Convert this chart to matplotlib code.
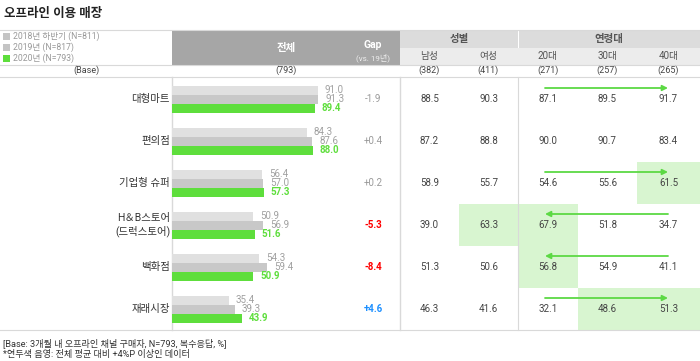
import matplotlib
matplotlib.use("Agg")
import matplotlib.pyplot as plt
from matplotlib.patches import Rectangle

plt.rcParams['font.family'] = ['Roboto', 'Noto Sans CJK KR', 'DejaVu Sans']

# data
categories = ['대형마트', '편의점', '기업형 슈퍼', 'H＆B스토어\n(드럭스토어)', '백화점', '재래시장']
y2018 = [91.0, 84.3, 56.4, 50.9, 54.3, 35.4]
y2019 = [91.3, 87.6, 57.0, 56.9, 59.4, 39.3]
y2020 = [89.4, 88.0, 57.3, 51.6, 50.9, 43.9]
gap = [-1.9, 0.4, 0.2, -5.3, -8.4, 4.6]
male = [88.5, 87.2, 58.9, 39.0, 51.3, 46.3]
female = [90.3, 88.8, 55.7, 63.3, 50.6, 41.6]
age20 = [87.1, 90.0, 54.6, 67.9, 56.8, 32.1]
age30 = [89.5, 90.7, 55.6, 51.8, 54.9, 48.6]
age40 = [91.7, 83.4, 61.5, 34.7, 41.1, 51.3]
sub_cols = ['남성', '여성', '20대', '30대', '40대']
bases = ['(382)', '(411)', '(271)', '(257)', '(265)']
legend_labels = ['2018년 하반기 (N=811)', '2019년 (N=817)', '2020년 (N=793)']
# (row, column index in sub_cols)
highlights = [(2, 4), (3, 1), (3, 2), (4, 2), (5, 3), (5, 4)]
# row -> arrow direction (1 = to 40대, -1 = to 20대)
arrows = {0: 1, 2: 1, 3: -1, 4: -1, 5: 1}

GREEN = '#5ede3c'
LIGHT = '#e0e0e0'
MID = '#c8c8c8'
LINE = '#d9d9d9'
TXT = '#444444'

fig = plt.figure(figsize=(7, 3.61), dpi=100)
ax = fig.add_axes([0, 0, 1, 1])
ax.set_xlim(0, 700)
ax.set_ylim(361, 0)
ax.axis('off')

row_top = 78
row_h = 42
col_x = [400, 459, 518, 578, 637, 700]

# title
ax.text(4, 13, '오프라인 이용 매장', fontsize=9, fontweight='bold', color='#222222', va='center')

# header blocks
ax.add_patch(Rectangle((172, 30), 228, 35, color='#a6a6a6', lw=0))
ax.add_patch(Rectangle((400, 30), 117.5, 18, color='#dcdcdc', lw=0))
ax.add_patch(Rectangle((518.5, 30), 181.5, 18, color='#dcdcdc', lw=0))
ax.add_patch(Rectangle((400, 48), 300, 17, color='#ececec', lw=0))
ax.text(286, 48, '전체', fontsize=7.5, fontweight='bold', color='white', ha='center', va='center')
ax.text(373, 45, 'Gap', fontsize=7.5, fontweight='bold', color='white', ha='center', va='center')
ax.text(373, 57.5, '(vs. 19년)', fontsize=5.8, color='#eeeeee', ha='center', va='center')
ax.text(459, 39, '성별', fontsize=7.5, fontweight='bold', color='#555555', ha='center', va='center')
ax.text(609, 39, '연령대', fontsize=7.5, fontweight='bold', color='#555555', ha='center', va='center')

# legend
legend_colors = ['#c4c4c4', '#c4c4c4', GREEN]
for i, (lab, c) in enumerate(zip(legend_labels, legend_colors)):
    yy = 36 + i * 11
    ax.add_patch(Rectangle((3, yy - 3.5), 7, 7, color=c, lw=0))
    ax.text(13, yy, lab, fontsize=6.2, color='#999999', va='center')

# base row
ax.text(86, 70.5, '(Base)', fontsize=6.5, color=TXT, ha='center', va='center')
ax.text(286, 70.5, '(793)', fontsize=6.5, color=TXT, ha='center', va='center')
for j, b in enumerate(bases):
    cx = (col_x[j] + col_x[j + 1]) / 2
    ax.text(cx, 56, sub_cols[j], fontsize=7, color='#555555', ha='center', va='center')
    ax.text(cx, 70.5, b, fontsize=6.5, color=TXT, ha='center', va='center')

# highlight cells
for r, c in highlights:
    ax.add_patch(Rectangle((col_x[c], row_top + r * row_h), col_x[c + 1] - col_x[c], row_h,
                           color='#d8f5d0', lw=0))

# lines
for yy in [30, 65, 76.5, 330]:
    ax.plot([0, 700], [yy, yy], color=LINE, lw=0.8)
ax.plot([172, 172], [76.5, 330], color=LINE, lw=1.0)
ax.plot([400, 400], [76.5, 330], color=LINE, lw=1.0)
ax.plot([518, 518], [76.5, 330], color=LINE, lw=0.8)

# table values
cols = [male, female, age20, age30, age40]
for i in range(len(categories)):
    cy = row_top + i * row_h + row_h / 2
    ax.text(170, cy, categories[i], fontsize=7.5, color='#333333', ha='right', va='center',
            linespacing=1.3)
    g = gap[i]
    if g <= -5:
        gc, gw = '#ff0000', 'bold'
    elif g >= 4:
        gc, gw = '#1e90ff', 'bold'
    else:
        gc, gw = '#999999', 'normal'
    ax.text(373, cy, f'{g:+.1f}', fontsize=7, color=gc, fontweight=gw, ha='center', va='center')
    for j, col in enumerate(cols):
        cx = (col_x[j] + col_x[j + 1]) / 2
        ax.text(cx, cy, f'{col[i]:.1f}', fontsize=7, color=TXT, ha='center', va='center')
    if i in arrows:
        ay = cy - 11
        x_20, x_40 = 545, 668
        if arrows[i] > 0:
            start, end = x_20, x_40
        else:
            start, end = x_40, x_20
        ax.annotate('', xy=(end, ay), xytext=(start, ay),
                    arrowprops=dict(arrowstyle='-|>', color='#5cd944', lw=1.3,
                                    mutation_scale=8, shrinkA=0, shrinkB=0))

# footnotes
ax.text(3, 343, '[Base: 3개월 내 오프라인 채널 구매자, N=793, 복수응답, %]', fontsize=6.6, color='#333333', va='center')
ax.text(3, 355, '*연두색 음영: 전체 평균 대비 +4%P 이상인 데이터', fontsize=6.6, color='#333333', va='center')

# bars
bx = fig.add_axes([172 / 700, 1 - 330 / 361, 178 / 700, 252 / 361])
bx.set_xlim(0, 178 / 1.6)
bx.set_ylim(len(categories) - 0.5, -0.5)
bx.axis('off')
bh = 9 / 42
pos = list(range(len(categories)))
series = [(y2018, LIGHT, -bh, '#a0a0a0', 'normal'),
          (y2019, MID, 0, '#a0a0a0', 'normal'),
          (y2020, GREEN, bh, GREEN, 'bold')]
for vals, c, off, tc, tw in series:
    ys = [p + off for p in pos]
    bx.barh(ys, vals, height=bh, color=c, lw=0)
    for y, v in zip(ys, vals):
        bx.annotate(f'{v:.1f}', xy=(v, y), xytext=(5, 0), textcoords='offset points',
                    fontsize=7, color=tc, fontweight=tw, va='center', ha='left')

fig.savefig('out.png', dpi=100)
